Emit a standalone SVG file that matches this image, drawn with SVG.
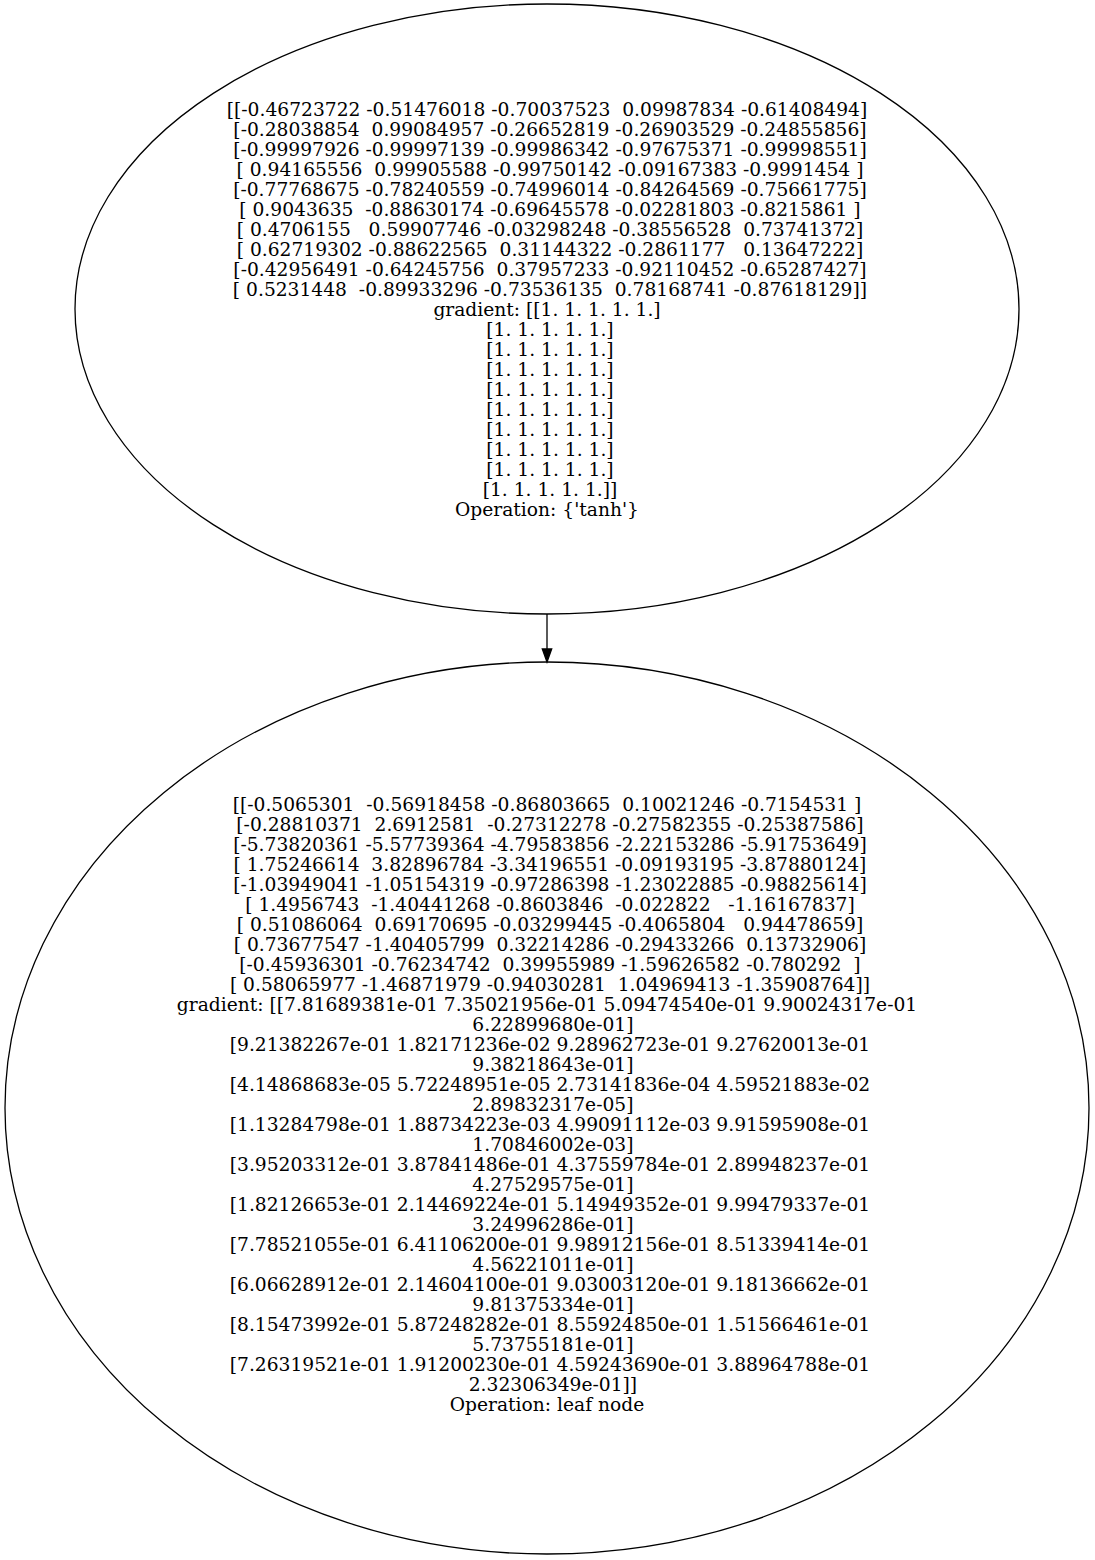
<svg xmlns="http://www.w3.org/2000/svg" width="1095" height="1560" viewBox="0 0 1095 1560">
<style>
.bg{fill:#fff}
.node{fill:none;stroke:#000;stroke-width:1.3}
.edge{stroke:#000;stroke-width:1.3;fill:none}
.head{fill:#000;stroke:#000;stroke-width:1.3}
text{font-family:"DejaVu Serif","Liberation Serif",serif;font-size:18.67px;fill:#000;text-anchor:middle;white-space:pre}
</style>
<rect class="bg" x="0" y="0" width="1095" height="1560"/>
<g id="edges">
<path class="edge" d="M547,614 L547,649"/>
<polygon class="head" points="542.3,649 551.7,649 547,662"/>
</g>
<g id="node_tanh">
<ellipse class="node" cx="547" cy="309" rx="472" ry="305"/>
<text x="547" y="116">[[-0.46723722 -0.51476018 -0.70037523  0.09987834 -0.61408494]</text>
<text x="547" y="136"> [-0.28038854  0.99084957 -0.26652819 -0.26903529 -0.24855856]</text>
<text x="547" y="156"> [-0.99997926 -0.99997139 -0.99986342 -0.97675371 -0.99998551]</text>
<text x="547" y="176"> [ 0.94165556  0.99905588 -0.99750142 -0.09167383 -0.9991454 ]</text>
<text x="547" y="196"> [-0.77768675 -0.78240559 -0.74996014 -0.84264569 -0.75661775]</text>
<text x="547" y="216"> [ 0.9043635  -0.88630174 -0.69645578 -0.02281803 -0.8215861 ]</text>
<text x="547" y="236"> [ 0.4706155   0.59907746 -0.03298248 -0.38556528  0.73741372]</text>
<text x="547" y="256"> [ 0.62719302 -0.88622565  0.31144322 -0.2861177   0.13647222]</text>
<text x="547" y="276"> [-0.42956491 -0.64245756  0.37957233 -0.92110452 -0.65287427]</text>
<text x="547" y="296"> [ 0.5231448  -0.89933296 -0.73536135  0.78168741 -0.87618129]]</text>
<text x="547" y="316">gradient: [[1. 1. 1. 1. 1.]</text>
<text x="547" y="336"> [1. 1. 1. 1. 1.]</text>
<text x="547" y="356"> [1. 1. 1. 1. 1.]</text>
<text x="547" y="376"> [1. 1. 1. 1. 1.]</text>
<text x="547" y="396"> [1. 1. 1. 1. 1.]</text>
<text x="547" y="416"> [1. 1. 1. 1. 1.]</text>
<text x="547" y="436"> [1. 1. 1. 1. 1.]</text>
<text x="547" y="456"> [1. 1. 1. 1. 1.]</text>
<text x="547" y="476"> [1. 1. 1. 1. 1.]</text>
<text x="547" y="496"> [1. 1. 1. 1. 1.]]</text>
<text x="547" y="516">Operation: {'tanh'}</text>
</g>
<g id="node_leaf">
<ellipse class="node" cx="547" cy="1108" rx="542" ry="446"/>
<text x="547" y="811">[[-0.5065301  -0.56918458 -0.86803665  0.10021246 -0.7154531 ]</text>
<text x="547" y="831"> [-0.28810371  2.6912581  -0.27312278 -0.27582355 -0.25387586]</text>
<text x="547" y="851"> [-5.73820361 -5.57739364 -4.79583856 -2.22153286 -5.91753649]</text>
<text x="547" y="871"> [ 1.75246614  3.82896784 -3.34196551 -0.09193195 -3.87880124]</text>
<text x="547" y="891"> [-1.03949041 -1.05154319 -0.97286398 -1.23022885 -0.98825614]</text>
<text x="547" y="911"> [ 1.4956743  -1.40441268 -0.8603846  -0.022822   -1.16167837]</text>
<text x="547" y="931"> [ 0.51086064  0.69170695 -0.03299445 -0.4065804   0.94478659]</text>
<text x="547" y="951"> [ 0.73677547 -1.40405799  0.32214286 -0.29433266  0.13732906]</text>
<text x="547" y="971"> [-0.45936301 -0.76234742  0.39955989 -1.59626582 -0.780292  ]</text>
<text x="547" y="991"> [ 0.58065977 -1.46871979 -0.94030281  1.04969413 -1.35908764]]</text>
<text x="547" y="1011">gradient: [[7.81689381e-01 7.35021956e-01 5.09474540e-01 9.90024317e-01</text>
<text x="547" y="1031">  6.22899680e-01]</text>
<text x="547" y="1051"> [9.21382267e-01 1.82171236e-02 9.28962723e-01 9.27620013e-01</text>
<text x="547" y="1071">  9.38218643e-01]</text>
<text x="547" y="1091"> [4.14868683e-05 5.72248951e-05 2.73141836e-04 4.59521883e-02</text>
<text x="547" y="1111">  2.89832317e-05]</text>
<text x="547" y="1131"> [1.13284798e-01 1.88734223e-03 4.99091112e-03 9.91595908e-01</text>
<text x="547" y="1151">  1.70846002e-03]</text>
<text x="547" y="1171"> [3.95203312e-01 3.87841486e-01 4.37559784e-01 2.89948237e-01</text>
<text x="547" y="1191">  4.27529575e-01]</text>
<text x="547" y="1211"> [1.82126653e-01 2.14469224e-01 5.14949352e-01 9.99479337e-01</text>
<text x="547" y="1231">  3.24996286e-01]</text>
<text x="547" y="1251"> [7.78521055e-01 6.41106200e-01 9.98912156e-01 8.51339414e-01</text>
<text x="547" y="1271">  4.56221011e-01]</text>
<text x="547" y="1291"> [6.06628912e-01 2.14604100e-01 9.03003120e-01 9.18136662e-01</text>
<text x="547" y="1311">  9.81375334e-01]</text>
<text x="547" y="1331"> [8.15473992e-01 5.87248282e-01 8.55924850e-01 1.51566461e-01</text>
<text x="547" y="1351">  5.73755181e-01]</text>
<text x="547" y="1371"> [7.26319521e-01 1.91200230e-01 4.59243690e-01 3.88964788e-01</text>
<text x="547" y="1391">  2.32306349e-01]]</text>
<text x="547" y="1411">Operation: leaf node</text>
</g>
</svg>
